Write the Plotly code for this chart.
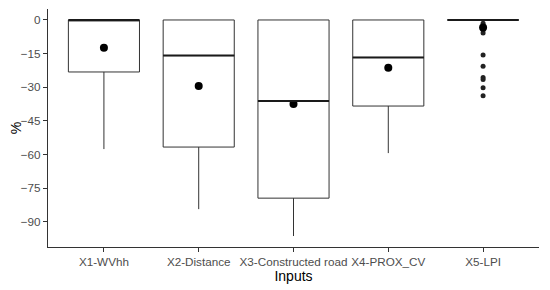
import plotly.graph_objects as go

# values (percent change per input)
inputs = ['X1-WVhh', 'X2-Distance', 'X3-Constructed road', 'X4-PROX_CV', 'X5-LPI']
q3 = [0, 0, 0, 0, 0]
median = [0, -15.9, -36.2, -16.7, 0]
q1 = [-23.2, -56.7, -79.5, -38.4, 0]
upper = [0, 0, 0, 0, 0]
lower = [-57.6, -84.4, -96.4, -59.4, 0]
means = [-12.4, -29.5, -37.5, -21.3, -3.3]

outlier_x = ['X5-LPI'] * 10
outlier_y = [-1.5, -3.6, -4.6, -5.8, -15.6, -20.6, -25.7, -26.6, -30.2, -33.8]

BOX_W = 0.75
LINE = '#333333'
TICK = '#4d4d4d'

fig = go.Figure()

fig.add_trace(go.Box(
    x=inputs, q1=q1, median=median, q3=q3,
    lowerfence=lower, upperfence=upper,
    width=BOX_W, whiskerwidth=0,
    fillcolor='white', line=dict(color=LINE, width=1),
    boxpoints=False, showlegend=False, hoverinfo='skip'
))

# thicker median bar like ggplot
for i, m in enumerate(median):
    fig.add_trace(go.Scatter(
        x=[i - BOX_W / 2, i + BOX_W / 2], y=[m, m],
        mode='lines', line=dict(color='#1a1a1a', width=2),
        showlegend=False, hoverinfo='skip', xaxis='x2'
    ))

fig.add_trace(go.Scatter(
    x=outlier_x, y=outlier_y, mode='markers',
    marker=dict(color='#222222', size=5),
    showlegend=False
))

fig.add_trace(go.Scatter(
    x=inputs, y=means, mode='markers',
    marker=dict(color='black', size=8),
    showlegend=False
))

# page body has an 8px margin, so the figure is sized/offset to compensate
fig.update_layout(
    width=542, height=282,
    margin=dict(l=40, r=11, t=1, b=43),
    paper_bgcolor='white', plot_bgcolor='white',
    font=dict(family='Liberation Sans, Arial, sans-serif', color='black'),
    xaxis=dict(
        type='category', range=[-0.59, 4.59], automargin=False,
        showline=True, linecolor=LINE, linewidth=1.2,
        ticks='outside', tickcolor=LINE, ticklen=4,
        tickfont=dict(size=11.7, color=TICK),
        showgrid=False, zeroline=False,
        title=dict(text='Inputs', font=dict(size=14), standoff=0),
    ),
    xaxis2=dict(
        overlaying='x', range=[-0.59, 4.59], visible=False,
    ),
    yaxis=dict(
        range=[-101.3, 4.9], automargin=False,
        tickvals=[0, -15, -30, -45, -60, -75, -90],
        showline=True, linecolor=LINE, linewidth=1.2,
        ticks='outside', tickcolor=LINE, ticklen=4,
        tickfont=dict(size=11.7, color=TICK),
        showgrid=False, zeroline=False,
        title=dict(text='%', font=dict(size=14), standoff=0),
    ),
)

fig.write_html('out.html')
